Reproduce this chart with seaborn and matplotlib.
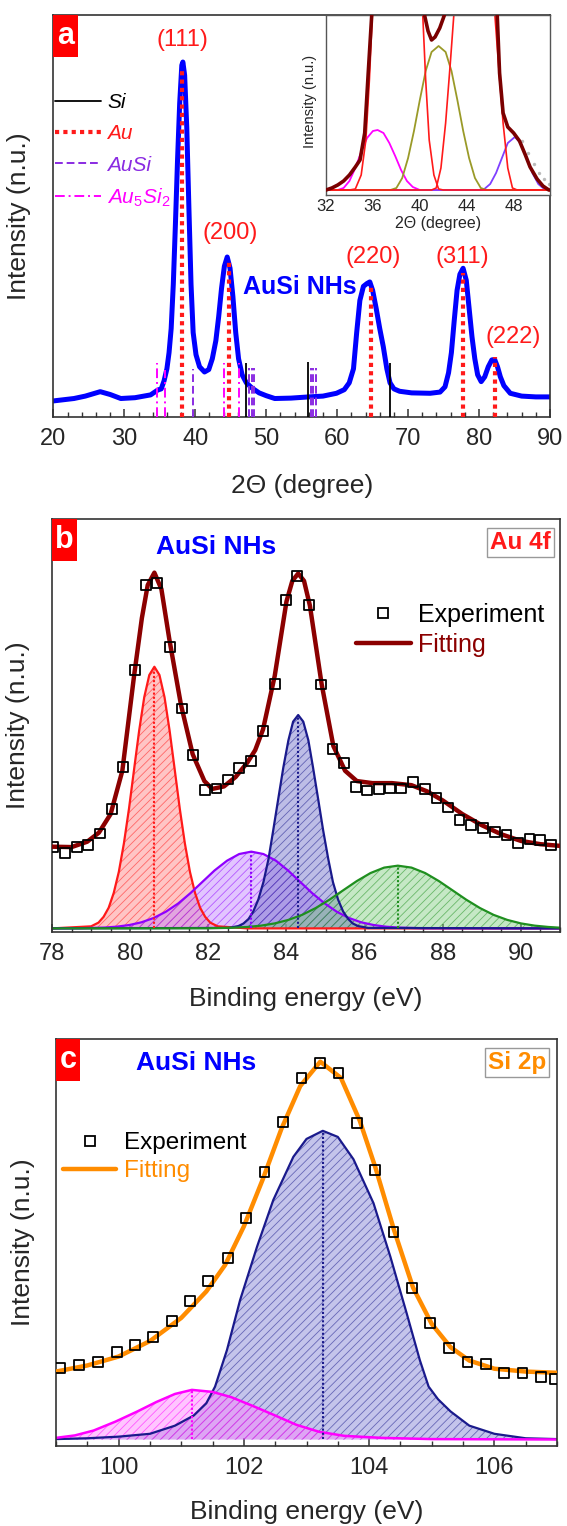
import seaborn as sns
import matplotlib.pyplot as plt
from matplotlib.lines import Line2D
from matplotlib.patches import Rectangle
from matplotlib.ticker import MultipleLocator
from matplotlib.colors import to_rgba

sns.set_theme(style='white')
plt.rcParams['font.family'] = ['Liberation Sans', 'DejaVu Sans']
plt.rcParams['mathtext.fontset'] = 'custom'
plt.rcParams['mathtext.rm'] = 'Liberation Sans'
plt.rcParams['mathtext.it'] = 'Liberation Sans:italic'
plt.rcParams['mathtext.bf'] = 'Liberation Sans:bold'
plt.rcParams['hatch.linewidth'] = 0.6

# ---------------- panel a : XRD ----------------
xrd_2theta = [20.0, 22.9, 24.5, 26.6, 28.0, 29.5, 31.5, 33.7, 34.7, 35.2, 35.6, 36.0, 36.3, 36.6, 36.9,
              37.2, 37.5, 37.8, 38.1, 38.25, 38.5, 38.8, 39.1, 39.4, 39.7, 40.1, 40.6, 41.3, 41.9, 42.4,
              42.9, 43.3, 43.7, 44.1, 44.5, 44.9, 45.3, 45.7, 46.1, 46.6, 47.2, 48.0, 49.0, 50.0, 51.2,
              53.5, 56.0, 58.0, 59.9, 61.0, 61.7, 62.3, 62.75, 63.2, 63.7, 64.2, 64.6, 65.0, 65.5, 66.0,
              66.5, 67.0, 67.45, 68.0, 68.8, 70.5, 73.1, 74.5, 75.2, 75.7, 76.1, 76.5, 76.9, 77.3, 77.75,
              78.2, 78.6, 79.0, 79.4, 79.8, 80.3, 80.8, 81.3, 81.8, 82.2, 82.6, 83.0, 83.5, 84.4, 86.0,
              88.0, 90.0]
xrd_int = [4.0, 4.6, 5.2, 6.3, 5.6, 4.6, 4.8, 5.5, 6.7, 7.0, 9.0, 12.0, 16.0, 22.0, 33.0,
           48.0, 64.0, 78.0, 87.5, 88.3, 85.0, 72.0, 52.0, 33.0, 21.0, 15.5, 12.5, 11.2, 11.8, 14.5,
           19.0, 25.0, 32.0, 37.5, 39.8, 37.0, 30.0, 21.0, 14.5, 10.5, 8.5, 7.2, 6.0, 5.3, 4.6,
           4.7, 5.0, 5.2, 5.9, 6.8, 8.5, 12.0, 21.0, 29.0, 32.5, 33.2, 33.6, 31.5, 27.0, 22.0,
           17.5, 12.0, 8.5, 7.0, 6.4, 6.0, 5.9, 6.2, 7.5, 11.0, 16.0, 24.0, 31.5, 35.5, 37.0,
           34.0, 27.0, 20.0, 14.5, 10.5, 8.8, 10.0, 12.5, 14.2, 14.3, 12.5, 10.0, 7.8, 5.9, 5.2,
           5.0, 5.0]

si_pos = [47.2, 55.95, 67.45]
si_h = [13.5, 13.8, 13.4]
au_pos = [38.1, 44.7, 64.7, 77.7, 82.2]
au_h = [86.8, 39.1, 32.4, 35.7, 15.0]
ausi_pos = [39.7, 47.55, 47.95, 48.3, 56.35, 56.65, 56.95]
ausi_h = [11.9, 12.2, 12.2, 12.2, 12.2, 12.2, 12.2]
au5si2_pos = [34.6, 35.75, 44.05, 46.15]
au5si2_h = [13.4, 11.7, 13.4, 13.4]

hkl = ['(111)', '(200)', '(220)', '(311)', '(222)']
hkl_x = [38.2, 44.9, 65.1, 77.7, 84.8]
hkl_y = [93.8, 45.7, 39.9, 39.9, 20.0]

# inset (zoom of 32-51 degree)
in_fit_x = [32.0, 32.5, 33.0, 33.5, 34.0, 34.5, 34.9, 35.3, 35.6, 35.9, 36.2, 37.0, 39.6, 40.1, 40.4, 40.7,
            41.0, 41.3, 41.7, 42.1, 42.4, 43.0, 46.0, 46.4, 46.6, 46.8, 47.1, 47.5, 48.0, 48.5, 49.0, 49.4,
            50.0, 50.5, 51.0, 51.2]
in_fit_y = [3, 5, 8, 12, 18, 26, 33, 60, 120, 178, 260, 400, 400, 230, 178, 162,
            153, 156, 165, 178, 250, 400, 400, 230, 178, 120, 80, 66, 60, 52, 38, 26,
            14, 7, 3, 3]
in_red1_x = [32.0, 34.0, 34.5, 35.0, 35.4, 35.7, 35.95, 36.3, 38.1, 39.9, 40.25, 40.5, 40.8, 41.2, 41.6, 42.0, 51.2]
in_red1_y = [3, 3, 4, 18, 53, 113, 178, 300, 600, 300, 178, 113, 53, 18, 4, 3, 3]
in_red2_x = [32.0, 41.0, 41.4, 41.8, 42.2, 42.6, 42.9, 43.3, 44.65, 46.0, 46.4, 46.7, 47.1, 47.5, 47.9, 48.3, 51.2]
in_red2_y = [3, 3, 5, 25, 70, 130, 178, 300, 500, 300, 178, 130, 70, 25, 5, 3, 3]
in_olive_x = [32.0, 37.5, 38.0, 38.5, 39.0, 39.5, 40.0, 40.5, 41.0, 41.6, 42.2, 42.7, 43.2, 43.7, 44.2, 44.7,
              45.2, 45.7, 51.2]
in_olive_y = [3, 3, 5, 15, 35, 62, 93, 122, 141, 147, 141, 122, 93, 62, 35, 15, 5, 3, 3]
in_mag_x = [32.0, 33.0, 33.5, 34.0, 34.5, 35.0, 35.5, 36.0, 36.4, 36.9, 37.4, 37.9, 38.4, 38.9, 39.4, 40.0, 51.2]
in_mag_y = [3, 3, 5, 12, 25, 41, 55, 62, 63, 60, 50, 37, 23, 12, 6, 3, 3]
in_vio_x = [32.0, 45.0, 45.5, 46.0, 46.5, 47.0, 47.5, 48.1, 48.6, 49.1, 49.6, 50.1, 50.6, 51.2]
in_vio_y = [3, 3, 4, 9, 20, 35, 50, 56, 50, 36, 20, 9, 4, 3]
in_exp_x = [48.7, 49.2, 49.7, 50.2, 50.6, 51.0]
in_exp_y = [52, 40, 29, 20, 14, 9]

# ---------------- panel b : Au 4f ----------------
au_be = [78.03, 78.33, 78.63, 78.93, 79.23, 79.53, 79.82, 80.12, 80.40, 80.68, 81.02, 81.32, 81.61, 81.91,
         82.21, 82.51, 82.79, 83.09, 83.40, 83.70, 83.98, 84.28, 84.58, 84.88, 85.18, 85.47, 85.77, 86.07,
         86.37, 86.64, 86.94, 87.24, 87.54, 87.84, 88.14, 88.43, 88.73, 89.03, 89.33, 89.63, 89.93, 90.22,
         90.48, 90.78]
au_exp = [20.5, 19.0, 20.5, 21.0, 23.8, 29.7, 40.0, 63.4, 84.0, 84.4, 68.9, 54.1, 42.8, 34.3,
          34.7, 36.9, 39.6, 41.4, 48.7, 60.0, 80.4, 86.2, 79.2, 59.9, 44.2, 40.8, 35.1, 34.2,
          34.5, 34.7, 34.7, 36.3, 34.5, 32.3, 30.1, 27.1, 25.9, 25.1, 24.2, 23.4, 21.4, 22.4,
          22.2, 21.0]
au_fit_x = [78.0, 78.5, 78.9, 79.2, 79.5, 79.8, 80.1, 80.3, 80.45, 80.62, 80.8, 81.0, 81.3, 81.6, 81.9,
            82.1, 82.4, 82.7, 83.0, 83.2, 83.4, 83.7, 84.0, 84.15, 84.3, 84.45, 84.6, 84.9, 85.2, 85.5,
            85.8, 86.2, 86.7, 87.2, 87.6, 88.0, 88.5, 89.0, 89.5, 90.0, 90.5, 91.0]
au_fit_y = [20.6, 20.5, 21.8, 24.0, 28.5, 39.0, 62.0, 76.0, 84.0, 87.0, 83.0, 71.0, 55.0, 43.0, 36.5,
            34.6, 35.2, 37.5, 41.0, 44.0, 49.0, 62.0, 80.0, 85.0, 86.8, 85.0, 79.0, 60.0, 45.0, 39.0,
            36.5, 36.0, 36.0, 35.5, 34.0, 31.8, 28.5, 25.8, 23.6, 22.0, 21.2, 20.8]
b_red_x = [78.0, 79.0, 79.19, 79.32, 79.45, 79.58, 79.71, 79.84, 79.97, 80.10, 80.23, 80.36, 80.49, 80.62,
           80.75, 80.88, 81.01, 81.14, 81.27, 81.40, 81.53, 81.66, 81.79, 81.92, 82.05, 82.24, 83.0, 91.0]
b_red_y = [0.8, 1.3, 2.2, 3.6, 5.8, 9.4, 14.5, 21.4, 29.8, 39.3, 48.7, 56.8, 62.2, 64.2,
           62.2, 56.8, 48.7, 39.3, 29.8, 21.4, 14.5, 9.4, 5.8, 3.6, 2.2, 1.3, 0.8, 0.8]
b_vio_x = [78.0, 78.73, 79.35, 79.66, 79.98, 80.29, 80.60, 80.91, 81.23, 81.54, 81.85, 82.16, 82.48, 82.79,
           83.10, 83.41, 83.73, 84.04, 84.35, 84.66, 84.98, 85.29, 85.60, 85.91, 86.23, 86.54, 86.85, 87.48, 91.0]
b_vio_y = [0.8, 0.84, 1.01, 1.22, 1.62, 2.28, 3.32, 4.82, 6.84, 9.32, 12.08, 14.84, 17.21, 18.82,
           19.4, 18.82, 17.21, 14.84, 12.08, 9.32, 6.84, 4.82, 3.32, 2.28, 1.62, 1.22, 1.01, 0.84, 0.8]
b_navy_x = [78.0, 82.52, 82.77, 82.90, 83.03, 83.15, 83.28, 83.41, 83.54, 83.66, 83.79, 83.92, 84.05, 84.17,
            84.30, 84.43, 84.56, 84.68, 84.81, 84.94, 85.07, 85.19, 85.32, 85.45, 85.58, 85.70, 85.83, 86.09, 91.0]
b_navy_y = [0.8, 0.91, 1.37, 1.98, 3.07, 4.9, 7.8, 12.0, 17.6, 24.5, 32.2, 39.8, 46.4, 50.9,
            52.5, 50.9, 46.4, 39.8, 32.2, 24.5, 17.6, 12.0, 7.8, 4.9, 3.07, 1.98, 1.37, 0.91, 0.8]
b_green_x = [78.0, 81.95, 82.65, 83.00, 83.35, 83.70, 84.05, 84.40, 84.75, 85.10, 85.45, 85.80, 86.15, 86.50,
             86.85, 87.20, 87.55, 87.90, 88.25, 88.60, 88.95, 89.30, 89.65, 90.00, 90.35, 90.70, 91.0]
b_green_y = [0.8, 0.83, 0.97, 1.15, 1.47, 2.01, 2.86, 4.08, 5.74, 7.76, 10.02, 12.27, 14.21, 15.53,
             16.0, 15.53, 14.21, 12.27, 10.02, 7.76, 5.74, 4.08, 2.86, 2.01, 1.47, 1.15, 0.97]
b_centers = [80.62, 83.10, 84.30, 86.85]
b_heights = [64.2, 19.4, 52.5, 16.0]

# ---------------- panel c : Si 2p ----------------
si_be = [99.07, 99.37, 99.67, 99.97, 100.26, 100.55, 100.85, 101.14, 101.43, 101.74, 102.04, 102.33, 102.63,
         102.92, 103.22, 103.51, 103.80, 104.10, 104.39, 104.68, 104.97, 105.27, 105.57, 105.86, 106.16,
         106.45, 106.74, 106.97]
si_exp = [19.1, 19.9, 20.7, 23.2, 24.8, 26.9, 30.7, 35.7, 40.6, 46.3, 56.0, 67.3, 79.7,
          90.4, 94.1, 91.8, 79.5, 67.9, 52.7, 38.8, 30.3, 24.0, 20.7, 20.2, 17.9,
          18.0, 17.0, 16.4]
si_fit_x = [99.0, 99.5, 100.0, 100.5, 101.0, 101.4, 101.7, 102.0, 102.3, 102.6, 102.9, 103.22, 103.55,
            103.85, 104.1, 104.4, 104.7, 105.0, 105.3, 105.6, 106.0, 106.5, 107.0]
si_fit_y = [18.3, 19.8, 22.0, 25.8, 31.5, 38.0, 44.5, 54.0, 65.5, 78.0, 88.5, 94.5, 90.5,
            80.0, 68.5, 53.0, 39.0, 30.0, 24.3, 21.0, 19.0, 18.3, 18.0]
c_navy_x = [99.0, 99.5, 100.0, 100.5, 100.9, 101.2, 101.4, 101.54, 101.73, 101.94, 102.21, 102.47, 102.79,
            103.0, 103.26, 103.5, 103.75, 104.07, 104.34, 104.6, 104.81, 104.95, 105.1, 105.3, 105.6,
            106.0, 106.5, 107.0]
c_navy_y = [1.7, 1.9, 2.3, 3.0, 5.0, 7.5, 10.5, 14.6, 23.6, 35.9, 49.0, 60.5, 71.1,
            75.5, 77.5, 76.0, 70.5, 59.7, 46.5, 32.6, 21.1, 14.6, 11.5, 8.5, 5.0,
            3.0, 1.9, 1.7]
c_mag_x = [99.0, 99.3, 99.6, 99.95, 100.3, 100.6, 100.9, 101.17, 101.5, 101.8, 102.15, 102.5, 102.84,
           103.2, 103.6, 104.2, 105.0, 107.0]
c_mag_y = [2.0, 2.6, 3.8, 6.0, 8.5, 10.8, 12.8, 13.8, 13.3, 12.0, 9.8, 7.5, 5.2,
           3.5, 2.5, 2.0, 1.7, 1.6]
c_centers = [101.17, 103.26]
c_heights = [13.8, 77.5]

BLUE = '#0000ff'
RED = '#ff1a1a'
VIOLET = '#8a2be2'
MAGENTA = '#ff00ff'
MAROON = '#8b0000'
NAVY = '#1a1a8c'
GREEN = '#1f8f1f'
ORANGE = '#ff8c00'
OLIVE = '#9a9a28'
TICK = 17
LABEL = 19


def curve(ax, x, y, color, lw, z=2):
    sns.lineplot(x=x, y=y, ax=ax, color=color, linewidth=lw, errorbar=None, zorder=z)


def shade(ax, x, y, base, color, fill):
    ax.fill_between(x, base, y, facecolor=to_rgba(fill, 0.45), edgecolor=to_rgba(color, 0.55),
                    hatch='////', linewidth=0, zorder=1)


def squares(ax, x, y):
    sns.scatterplot(x=x, y=y, ax=ax, marker='s', s=50, zorder=4)
    pts = ax.collections[-1]
    pts.set_facecolor('none')
    pts.set_edgecolor('black')
    pts.set_linewidth(1.3)


def frame(ax, major, minor):
    for s in ax.spines.values():
        s.set_color('#333333')
        s.set_linewidth(1.2)
    ax.xaxis.set_major_locator(MultipleLocator(major))
    ax.xaxis.set_minor_locator(MultipleLocator(minor))
    ax.tick_params(axis='x', which='both', direction='in', bottom=True, top=False,
                   labelsize=TICK, pad=8, color='#333333')
    ax.tick_params(axis='x', which='major', length=6, width=1.1)
    ax.tick_params(axis='x', which='minor', length=3.5, width=1.0)
    ax.tick_params(axis='y', left=False, labelleft=False)
    ax.set_ylim(0, 100)


def letter(ax, s, w, h):
    ax.add_patch(Rectangle((0, 1 - h), w, h, transform=ax.transAxes, facecolor='#ff0000',
                           edgecolor='none', zorder=10, clip_on=False))
    ax.text(w / 2, 1 - h / 2, s, transform=ax.transAxes, ha='center', va='center',
            color='white', fontsize=22, fontweight='bold', zorder=11)


fig = plt.figure(figsize=(5.67, 15.26), dpi=100)
fig.patch.set_facecolor('white')

# ---- panel a ----
ax = fig.add_axes([53.4 / 567, 1 - 417 / 1526, 496.6 / 567, 402 / 1526])
curve(ax, xrd_2theta, xrd_int, BLUE, 3.6)
ax.vlines(si_pos, 0, si_h, color='black', linewidth=1.3, zorder=3)
ax.vlines(au_pos, 0, au_h, color=RED, linewidth=3, linestyles=[(0, (1, 1))], zorder=3)
ax.vlines(ausi_pos, 0, ausi_h, color=VIOLET, linewidth=1.4, linestyles=[(0, (4, 2))], zorder=3)
ax.vlines(au5si2_pos, 0, au5si2_h, color=MAGENTA, linewidth=1.4, linestyles=[(0, (5, 2, 1, 2))], zorder=3)
for t, x, y in zip(hkl, hkl_x, hkl_y):
    ax.text(x, y, t, color=RED, fontsize=17, ha='center', va='center')
ax.text(46.7, 32.3, 'AuSi NHs', color=BLUE, fontsize=18, fontweight='bold', ha='left', va='center')
frame(ax, 10, 2)
ax.set_xlim(20, 90)
ax.set_xlabel('2\u0398 (degree)', fontsize=LABEL)
ax.set_ylabel('Intensity (n.u.)', fontsize=LABEL)
ax.xaxis.set_label_coords(0.5, -0.142)
ax.yaxis.set_label_coords(-0.045, 0.5)
handles = [Line2D([], [], color='black', lw=1.3),
           Line2D([], [], color=RED, lw=3, ls=(0, (1, 1))),
           Line2D([], [], color=VIOLET, lw=1.4, ls=(0, (4, 2))),
           Line2D([], [], color=MAGENTA, lw=1.4, ls=(0, (5, 2, 1, 2)))]
ax.legend(handles, ['Si', 'Au', 'AuSi', 'Au$_5$Si$_2$'], loc='upper left', bbox_to_anchor=(0.003, 0.805),
          frameon=False, prop={'style': 'italic', 'size': 15}, handlelength=2.2, handletextpad=0.3,
          labelspacing=0.58, borderpad=0, borderaxespad=0,
          labelcolor=['black', RED, VIOLET, MAGENTA])
letter(ax, 'a', 0.05, 0.104)

# inset
axin = fig.add_axes([326 / 567, 1 - 195 / 1526, 224 / 567, 180 / 1526])
curve(axin, in_mag_x, in_mag_y, MAGENTA, 1.3)
curve(axin, in_vio_x, in_vio_y, '#7f3fff', 1.3)
curve(axin, in_olive_x, in_olive_y, OLIVE, 1.3)
curve(axin, in_red1_x, in_red1_y, RED, 1.2)
curve(axin, in_red2_x, in_red2_y, RED, 1.2)
sns.scatterplot(x=in_exp_x, y=in_exp_y, ax=axin, color='#bbbbbb', s=6, linewidth=0, zorder=2)
curve(axin, in_fit_x, in_fit_y, '#7a0000', 2.6, z=3)
axin.set_xlim(32, 51.1)
axin.set_ylim(-2, 178)
for s in axin.spines.values():
    s.set_color('#555555')
    s.set_linewidth(1.0)
axin.xaxis.set_major_locator(MultipleLocator(4))
axin.xaxis.set_minor_locator(MultipleLocator(1))
axin.set_yticks([27, 77, 127])
axin.tick_params(axis='x', which='both', direction='in', labelsize=12, pad=3, color='#555555')
axin.tick_params(axis='x', which='major', length=3.5, width=0.8)
axin.tick_params(axis='x', which='minor', length=2, width=0.6)
axin.tick_params(axis='y', direction='in', length=3, width=0.8, labelleft=False, color='#555555')
axin.set_xlabel('2\u0398 (degree)', fontsize=11.5, labelpad=1)
axin.set_ylabel('Intensity (n.u.)', fontsize=10.5)
axin.yaxis.set_label_coords(-0.04, 0.52)

# ---- panel b ----
ax = fig.add_axes([52 / 567, 1 - 931.7 / 1526, 508 / 567, 412.7 / 1526])
for xs, ys, c, f in [(b_red_x, b_red_y, RED, '#ff8080'),
                     (b_vio_x, b_vio_y, '#8f00ff', '#c080ff'),
                     (b_navy_x, b_navy_y, NAVY, '#6e6ec8'),
                     (b_green_x, b_green_y, GREEN, '#80cc80')]:
    shade(ax, xs, ys, 0.8, c, f)
    curve(ax, xs, ys, c, 1.6)
ax.vlines(b_centers, 0.8, b_heights, colors=[RED, '#8f00ff', NAVY, GREEN], linewidth=1.5,
          linestyles=[(0, (1, 1))], zorder=2)
curve(ax, au_fit_x, au_fit_y, MAROON, 3.2, z=3)
squares(ax, au_be, au_exp)
frame(ax, 2, 0.5)
ax.set_xlim(78, 91)
ax.set_xlabel('Binding energy (eV)', fontsize=LABEL)
ax.set_ylabel('Intensity (n.u.)', fontsize=LABEL)
ax.xaxis.set_label_coords(0.5, -0.134)
ax.yaxis.set_label_coords(-0.043, 0.5)
ax.text(0.204, 0.933, 'AuSi NHs', transform=ax.transAxes, color=BLUE, fontsize=19,
        fontweight='bold', ha='left', va='center')
ax.text(0.922, 0.943, 'Au 4f', transform=ax.transAxes, color=RED, fontsize=17.5, fontweight='bold',
        ha='center', va='center',
        bbox=dict(boxstyle='square,pad=0.12', facecolor='white', edgecolor='#999999', linewidth=1))
handles = [Line2D([], [], marker='s', ls='none', mfc='none', mec='black', ms=7, mew=1.3),
           Line2D([], [], color=MAROON, lw=3.2)]
ax.legend(handles, ['Experiment', 'Fitting'], loc='upper left', bbox_to_anchor=(0.598, 0.797),
          frameon=False, fontsize=18, handlelength=2.2, handletextpad=0.3, labelspacing=0.25,
          borderpad=0, borderaxespad=0, labelcolor=['black', MAROON])
letter(ax, 'b', 0.049, 0.102)

# ---- panel c ----
ax = fig.add_axes([56 / 567, 1 - 1446 / 1526, 501 / 567, 406.7 / 1526])
shade(ax, c_navy_x, c_navy_y, 1.6, NAVY, '#7c7cd4')
curve(ax, c_navy_x, c_navy_y, NAVY, 1.6)
shade(ax, c_mag_x, c_mag_y, 1.6, MAGENTA, '#ff80ff')
curve(ax, c_mag_x, c_mag_y, MAGENTA, 1.8)
ax.vlines(c_centers, 1.6, c_heights, colors=[MAGENTA, NAVY], linewidth=1.5,
          linestyles=[(0, (1, 1))], zorder=2)
curve(ax, si_fit_x, si_fit_y, ORANGE, 3.2, z=3)
squares(ax, si_be, si_exp)
frame(ax, 2, 0.5)
ax.set_xlim(99, 107)
ax.set_xlabel('Binding energy (eV)', fontsize=LABEL)
ax.set_ylabel('Intensity (n.u.)', fontsize=LABEL)
ax.xaxis.set_label_coords(0.5, -0.133)
ax.yaxis.set_label_coords(-0.042, 0.5)
ax.text(0.159, 0.942, 'AuSi NHs', transform=ax.transAxes, color=BLUE, fontsize=19,
        fontweight='bold', ha='left', va='center')
ax.text(0.920, 0.943, 'Si 2p', transform=ax.transAxes, color=ORANGE, fontsize=17.5, fontweight='bold',
        ha='center', va='center',
        bbox=dict(boxstyle='square,pad=0.12', facecolor='white', edgecolor='#999999', linewidth=1))
handles = [Line2D([], [], marker='s', ls='none', mfc='none', mec='black', ms=7, mew=1.3),
           Line2D([], [], color=ORANGE, lw=3.2)]
ax.legend(handles, ['Experiment', 'Fitting'], loc='upper left', bbox_to_anchor=(0.014, 0.772),
          frameon=False, fontsize=17.5, handlelength=2.2, handletextpad=0.3, labelspacing=0.25,
          borderpad=0, borderaxespad=0, labelcolor=['black', ORANGE])
letter(ax, 'c', 0.048, 0.103)

fig.savefig('out.png', dpi=100)
